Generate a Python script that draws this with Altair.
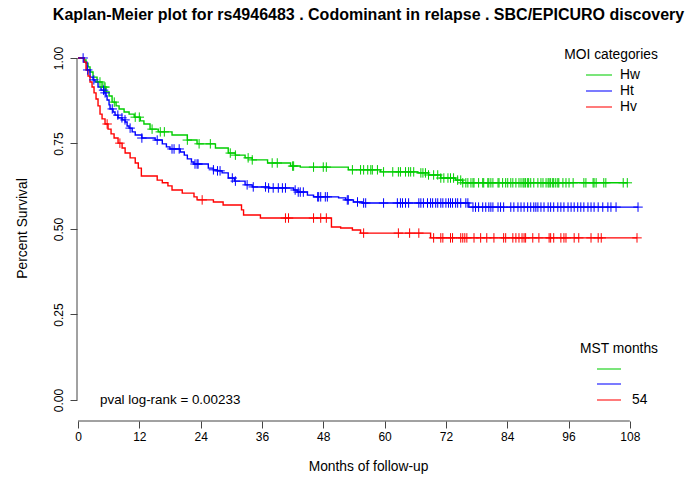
import altair as alt
import pandas as pd
import numpy as np

# ---------------- data ----------------
groups = ["Hw", "Ht", "Hv"]
colors = ["#00CD00", "#0000FF", "#FF0000"]

# Hw (green): event times (months) and survival after each step
hw_t = [1.18, 1.57, 1.96, 2.35, 2.94, 3.73, 4.71, 5.49, 6.08, 6.67, 7.45, 8.04, 9.02, 10.0,
        11.0, 12.2, 12.9, 14.1, 15.7, 18.4, 21.4, 23.3, 26.9, 29.4, 30.8, 32.7, 34.1, 37.1,
        41.6, 43.5, 52.9, 59.2, 66.5, 68.6, 71.0, 73.9, 75.3]
hw_s = [0.994, 0.985, 0.974, 0.959, 0.944, 0.930, 0.915, 0.901, 0.889, 0.871, 0.860, 0.851,
        0.842, 0.836, 0.827, 0.816, 0.807, 0.792, 0.784, 0.775, 0.760, 0.749, 0.737, 0.722,
        0.716, 0.708, 0.702, 0.693, 0.684, 0.681, 0.673, 0.667, 0.664, 0.658, 0.649, 0.643, 0.635]
hw_cens = [4.3, 5.1, 5.3, 7.1, 11.2, 12.0, 14.5, 16.1, 16.9, 21.4, 23.7, 25.9, 29.8, 30.8,
           33.3, 34.1, 38.0, 39.0, 42.0, 42.2, 46.1, 48.0, 48.6, 53.7, 55.3, 55.9, 56.7, 57.3,
           57.6, 58.6, 59.8, 61.6, 62.7, 63.1, 64.1, 64.7, 65.1, 65.7, 67.1, 67.5, 68.0, 68.6,
           69.6, 70.4, 71.0, 71.6, 72.4, 72.9, 73.5, 74.3, 74.9, 75.3, 75.9, 76.3, 76.9, 77.3,
           77.5, 78.4, 79.2, 79.4, 80.2, 80.4, 80.8, 81.2, 82.2, 82.4, 83.1, 83.7, 84.1, 84.7,
           85.1, 85.7, 86.3, 86.7, 87.1, 87.3, 87.6, 88.0, 88.2, 88.6, 89.2, 90.0, 90.6, 91.0,
           91.6, 92.0, 92.2, 92.5, 92.9, 93.1, 93.5, 93.9, 94.1, 94.9, 95.5, 96.1, 96.9, 99.0,
           99.4, 100.8, 101.0, 101.4, 102.9, 103.3, 106.7, 107.5]

# Ht (blue)
ht_t = [1.18, 1.76, 2.35, 2.94, 3.33, 3.92, 4.51, 5.10, 5.49, 5.69, 6.08, 6.27, 6.86, 7.25,
        7.84, 8.63, 9.22, 9.61, 10.0, 10.6, 11.2, 12.5, 15.1, 16.5, 17.3, 18.0, 20.0, 20.8,
        21.4, 22.2, 22.7, 25.5, 26.5, 27.3, 28.2, 29.4, 30.6, 32.7, 34.1, 37.3, 42.2, 42.9,
        44.9, 46.1, 51.0, 52.4, 53.9, 55.7, 76.5]
ht_s = [0.988, 0.965, 0.944, 0.936, 0.930, 0.915, 0.906, 0.898, 0.889, 0.877, 0.863, 0.851,
        0.842, 0.833, 0.825, 0.819, 0.813, 0.801, 0.795, 0.784, 0.775, 0.766, 0.760, 0.749,
        0.740, 0.734, 0.725, 0.716, 0.705, 0.696, 0.690, 0.678, 0.673, 0.670, 0.664, 0.649,
        0.640, 0.629, 0.623, 0.620, 0.614, 0.608, 0.599, 0.594, 0.591, 0.585, 0.579, 0.576, 0.564]
ht_cens = [1.0, 1.9, 3.1, 5.0, 5.3, 6.7, 7.8, 8.6, 9.2, 10.2, 12.5, 15.5, 18.4, 18.8, 19.8,
           22.9, 23.3, 23.5, 26.5, 27.3, 27.8, 30.2, 30.8, 33.1, 34.3, 36.7, 37.3, 38.2, 39.2,
           40.0, 40.6, 42.5, 43.1, 43.5, 44.1, 46.9, 47.1, 47.5, 48.4, 48.8, 52.7, 52.9, 54.7,
           55.9, 56.3, 59.8, 62.5, 63.1, 63.5, 64.1, 64.7, 66.7, 67.1, 67.6, 68.4, 69.0, 69.4,
           70.0, 70.4, 71.0, 71.4, 72.0, 72.5, 72.9, 73.3, 73.9, 74.3, 74.9, 75.9, 76.3, 77.3,
           77.8, 78.4, 79.2, 79.8, 80.4, 80.8, 81.2, 82.2, 82.7, 83.3, 84.7, 85.3, 86.1, 86.7,
           87.3, 88.0, 88.6, 89.2, 89.6, 90.0, 90.6, 91.2, 92.0, 92.5, 93.1, 93.9, 94.5, 95.1,
           95.9, 96.5, 97.1, 97.8, 98.4, 99.0, 99.8, 100.4, 101.0, 101.8, 102.7, 103.7, 104.3,
           105.3, 109.6]

# Hv (red)
hv_t = [1.18, 1.57, 1.96, 2.35, 2.75, 3.14, 3.53, 3.92, 4.31, 4.71, 5.29, 5.88, 6.47, 7.06,
        7.84, 8.63, 9.22, 10.2, 11.2, 11.8, 12.4, 15.5, 16.5, 17.6, 18.4, 20.4, 22.7, 23.3,
        26.5, 28.4, 32.0, 32.4, 35.7, 49.6, 51.4, 53.7, 55.3, 69.0]
hv_s = [0.988, 0.965, 0.947, 0.930, 0.915, 0.898, 0.880, 0.860, 0.836, 0.822, 0.807, 0.792,
        0.778, 0.766, 0.751, 0.737, 0.722, 0.708, 0.693, 0.678, 0.655, 0.643, 0.635, 0.626,
        0.614, 0.605, 0.594, 0.585, 0.579, 0.570, 0.556, 0.541, 0.532, 0.506, 0.503, 0.497,
        0.488, 0.474]
hv_cens = [5.7, 8.2, 24.3, 40.6, 41.2, 46.1, 47.5, 48.6, 55.9, 62.7, 64.9, 66.7, 69.6, 71.0,
           71.4, 72.9, 73.3, 74.9, 75.3, 75.7, 76.1, 77.5, 78.8, 80.0, 81.4, 83.3, 83.7, 85.1,
           85.7, 86.3, 86.9, 87.3, 87.6, 89.0, 90.2, 92.2, 92.5, 93.1, 94.5, 95.1, 95.5, 97.1,
           98.0, 100.4, 101.8, 102.4, 109.4]

x_ticks = [0, 12, 24, 36, 48, 60, 72, 84, 96, 108]
y_ticks = [0.0, 0.25, 0.5, 0.75, 1.0]

title_text = "Kaplan-Meier plot for rs4946483 . Codominant in relapse . SBC/EPICURO discovery"
x_title = "Months of follow-up"
y_title = "Percent Survival"
pval_label = "pval log-rank = 0.00233"
legend1_title = "MOI categories"
legend2_title = "MST months"
mst_labels = ["", "", "54"]

# ---------------- build tables ----------------
series = {"Hw": (hw_t, hw_s, hw_cens), "Ht": (ht_t, ht_s, ht_cens), "Hv": (hv_t, hv_s, hv_cens)}
curve_rows, cens_rows = [], []
for g in groups:
    t, s, c = series[g]
    end = max(c[-1], t[-1])
    ts = [0.0] + list(t) + [end]
    ss = [1.0] + list(s) + [s[-1]]
    for i, (a, b) in enumerate(zip(ts, ss)):
        curve_rows.append({"group": g, "t": a, "s": b, "o": i})
    tt = np.array(t)
    for ct in c:
        k = np.searchsorted(tt, ct, side="right") - 1
        cens_rows.append({"group": g, "t": ct, "s": 1.0 if k < 0 else s[k]})
curves = pd.DataFrame(curve_rows)
cens = pd.DataFrame(cens_rows)

FONT = "Liberation Sans"
TXT = 13.8
W, H = 583, 381
xscale = alt.Scale(domain=[-0.196, 113.9], nice=False, zero=False)
yscale = alt.Scale(domain=[-0.0614, 1.0526], nice=False, zero=False)
cscale = alt.Scale(domain=groups, range=colors)

xaxis = alt.Axis(values=x_ticks, domain=False, grid=False, tickSize=7, tickColor="#444",
                 labelFontSize=12, labelFont=FONT, labelColor="#000", labelPadding=3,
                 title=x_title, titleFont=FONT, titleFontSize=TXT, titleFontWeight="normal",
                 titleColor="#000", titleX=291, titleY=45, titleBaseline="middle",
                 titleAlign="center")
yaxis = alt.Axis(values=y_ticks, format=".2f", domain=False, grid=False, tickSize=7, tickColor="#444",
                 labelFontSize=12, labelFont=FONT, labelColor="#000", labelAngle=270,
                 labelAlign="center", labelBaseline="bottom", labelPadding=5,
                 title=y_title, titleFont=FONT, titleFontSize=TXT, titleFontWeight="normal",
                 titleColor="#000", titleAngle=270, titleX=-55, titleY=188, titleBaseline="middle",
                 titleAlign="center")

X = alt.X("t:Q", scale=xscale, axis=xaxis)
Y = alt.Y("s:Q", scale=yscale, axis=yaxis)

lines = alt.Chart(curves).mark_line(interpolate="step-after", strokeWidth=1.4).encode(
    x=X, y=Y,
    color=alt.Color("group:N", scale=cscale, legend=None),
    order="o:Q",
)
plus = alt.Chart(cens).mark_point(shape="M-1,0L1,0M0,-1L0,1", filled=False, size=90, strokeWidth=1,
                                  opacity=1).encode(
    x=X, y=Y,
    color=alt.Color("group:N", scale=cscale, legend=None),
)

yline = alt.Chart(pd.DataFrame({"s": [0.0], "s2": [1.0]})).mark_rule(color="#444", strokeWidth=1).encode(
    x=alt.value(0), y=Y, y2="s2:Q")
xline = alt.Chart(pd.DataFrame({"t": [0.0], "t2": [108.0]})).mark_rule(color="#444", strokeWidth=1).encode(
    y=alt.value(H), x=X, x2="t2:Q")

pval = alt.Chart(pd.DataFrame({"label": [pval_label]})).mark_text(
    font=FONT, fontSize=13.4, align="left", baseline="middle", color="#000").encode(
    text="label:N", x=alt.value(23), y=alt.value(360))

layers = [lines, plus, yline, xline, pval]

# legend 1: MOI categories
leg1_y = [35, 51, 67]
layers.append(alt.Chart(pd.DataFrame({"label": [legend1_title]})).mark_text(
    font=FONT, fontSize=TXT, align="center", baseline="middle", color="#000").encode(
    text="label:N", x=alt.value(534), y=alt.value(15)))
for g, col, yy in zip(groups, colors, leg1_y):
    layers.append(alt.Chart(pd.DataFrame({"label": [g]})).mark_rule(color=col, strokeWidth=1.3, opacity=0.8).encode(
        x=alt.value(509), x2=alt.value(535), y=alt.value(yy)))
    layers.append(alt.Chart(pd.DataFrame({"label": [g]})).mark_text(
        font=FONT, fontSize=TXT, align="left", baseline="middle", color="#000").encode(
        text="label:N", x=alt.value(543), y=alt.value(yy)))

# legend 2: MST months
leg2_y = [329, 344, 360]
layers.append(alt.Chart(pd.DataFrame({"label": [legend2_title]})).mark_text(
    font=FONT, fontSize=TXT, align="center", baseline="middle", color="#000").encode(
    text="label:N", x=alt.value(542), y=alt.value(309)))
for lab, col, yy in zip(mst_labels, colors, leg2_y):
    layers.append(alt.Chart(pd.DataFrame({"label": [lab]})).mark_rule(color=col, strokeWidth=1.3, opacity=0.8).encode(
        x=alt.value(520), x2=alt.value(544), y=alt.value(yy)))
    layers.append(alt.Chart(pd.DataFrame({"label": [lab]})).mark_text(
        font=FONT, fontSize=TXT, align="left", baseline="middle", color="#000").encode(
        text="label:N", x=alt.value(555), y=alt.value(yy)))

chart = alt.layer(*layers).properties(
    width=W, height=H,
    title=alt.TitleParams(title_text, font=FONT, fontSize=16, fontWeight="bold", color="#000",
                          anchor="middle", offset=17),
    autosize=alt.AutoSizeParams(type="none"),
    padding={"left": 77, "top": 40, "right": 29, "bottom": 60},
    background="white",
).configure_view(stroke=None)

chart.save("out.html", embed_options={"renderer": "svg", "actions": False})
